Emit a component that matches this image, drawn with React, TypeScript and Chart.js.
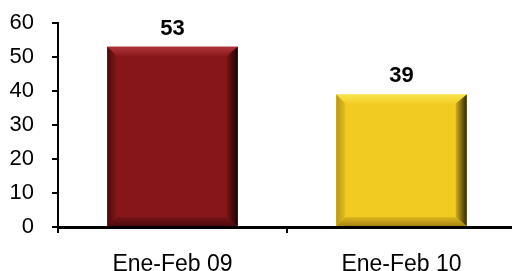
import React, { useEffect, useRef } from "react";
import { Chart, registerables } from "chart.js";

Chart.register(...registerables);

const categories: string[] = ["Ene-Feb 09", "Ene-Feb 10"];
const values: number[] = [53, 39];
const yMin = 0;
const yMax = 60;
const yStep = 10;

const barColors = ["#861619", "#F2CB22"];
const bevelStyles = [
  {
    topOuter: "#B0343A",
    topInner: "#8C1A1E",
    bottomOuter: "#4E0A0C",
    bottomInner: "#761417",
    leftOuter: "#4A0A0C",
    leftInner: "#7E1619",
    rightOuter: "#1A0303",
    rightInner: "#7A1417",
  },
  {
    topOuter: "#F8E44A",
    topInner: "#F3CF26",
    bottomOuter: "#A88414",
    bottomInner: "#DDB81E",
    leftOuter: "#B8961A",
    leftInner: "#E4BE20",
    rightOuter: "#2E260A",
    rightInner: "#D4AE1E",
  },
];

const FONT = "'Liberation Sans', Arial, sans-serif";

function poly(ctx: CanvasRenderingContext2D, pts: number[][], fill: CanvasGradient | string) {
  ctx.beginPath();
  ctx.moveTo(pts[0][0], pts[0][1]);
  for (let i = 1; i < pts.length; i++) ctx.lineTo(pts[i][0], pts[i][1]);
  ctx.closePath();
  ctx.fillStyle = fill;
  ctx.fill();
}

const bevelPlugin = {
  id: "bevelLabels",
  afterDatasetsDraw(chart: any) {
    const ctx: CanvasRenderingContext2D = chart.ctx;
    const meta = chart.getDatasetMeta(0);
    ctx.save();
    meta.data.forEach((bar: any, i: number) => {
      const p = bar.getProps(["x", "y", "base", "width"], true);
      const l = p.x - p.width / 2;
      const r = p.x + p.width / 2;
      const t = Math.min(p.y, p.base);
      const b = Math.max(p.y, p.base);
      const s = bevelStyles[i % bevelStyles.length];
      const bw = 9;
      let g = ctx.createLinearGradient(0, t, 0, t + bw);
      g.addColorStop(0, s.topOuter);
      g.addColorStop(1, s.topInner);
      poly(ctx, [[l, t], [r, t], [r - bw, t + bw], [l + bw, t + bw]], g);
      g = ctx.createLinearGradient(0, b - bw, 0, b);
      g.addColorStop(0, s.bottomInner);
      g.addColorStop(1, s.bottomOuter);
      poly(ctx, [[l, b], [r, b], [r - bw, b - bw], [l + bw, b - bw]], g);
      g = ctx.createLinearGradient(l, 0, l + bw, 0);
      g.addColorStop(0, s.leftOuter);
      g.addColorStop(1, s.leftInner);
      poly(ctx, [[l, t], [l + bw, t + bw], [l + bw, b - bw], [l, b]], g);
      g = ctx.createLinearGradient(r - bw - 2, 0, r, 0);
      g.addColorStop(0, s.rightInner);
      g.addColorStop(1, s.rightOuter);
      poly(ctx, [[r, t], [r - bw - 2, t + bw], [r - bw - 2, b - bw], [r, b]], g);

      ctx.fillStyle = "#000";
      ctx.font = `bold 22px ${FONT}`;
      ctx.textAlign = "center";
      ctx.textBaseline = "alphabetic";
      ctx.fillText(String(values[i]), p.x, t - 12);
    });
    ctx.restore();
  },
};

export default function App() {
  const ref = useRef<HTMLCanvasElement | null>(null);
  useEffect(() => {
    document.documentElement.style.overflow = "hidden";
    document.body.style.overflow = "hidden";
    const canvas = ref.current!;
    const chart = new Chart(canvas, {
      type: "bar",
      data: {
        labels: categories,
        datasets: [
          {
            data: values,
            backgroundColor: barColors,
            borderWidth: 0,
            barPercentage: 0.57,
            categoryPercentage: 1,
          },
        ],
      },
      options: {
        responsive: false,
        animation: false,
        devicePixelRatio: 1,
        layout: { padding: { top: 23, left: 0, right: 0, bottom: 0 } },
        plugins: { legend: { display: false }, tooltip: { enabled: false } },
        scales: {
          x: {
            grid: { display: true, drawOnChartArea: false, drawTicks: true, tickLength: 6, color: "#000", lineWidth: 2, offset: true },
            border: { display: true, color: "#000", width: 3, z: 1 },
            ticks: { color: "#000", font: { family: FONT, size: 23 }, padding: 18, maxRotation: 0 },
            afterFit: (scale: any) => {
              scale.height = 44;
              scale.paddingLeft = 0;
              scale.paddingRight = 0;
            },
          },
          y: {
            min: yMin,
            max: yMax,
            grid: { display: true, drawOnChartArea: false, drawTicks: true, tickLength: 6, color: "#000", lineWidth: 2 },
            border: { display: true, color: "#000", width: 2, z: 1 },
            ticks: { stepSize: yStep, color: "#000", font: { family: FONT, size: 22 }, padding: 18 },
            afterFit: (scale: any) => {
              scale.width = 58;
              scale.paddingTop = 0;
              scale.paddingBottom = 0;
            },
          },
        },
      },
      plugins: [bevelPlugin],
    });
    return () => chart.destroy();
  }, []);
  return (
    <div style={{ position: "absolute", left: 0, top: 0, width: 516, height: 271, background: "#fff" }}>
      <canvas ref={ref} width={516} height={271} />
    </div>
  );
}
